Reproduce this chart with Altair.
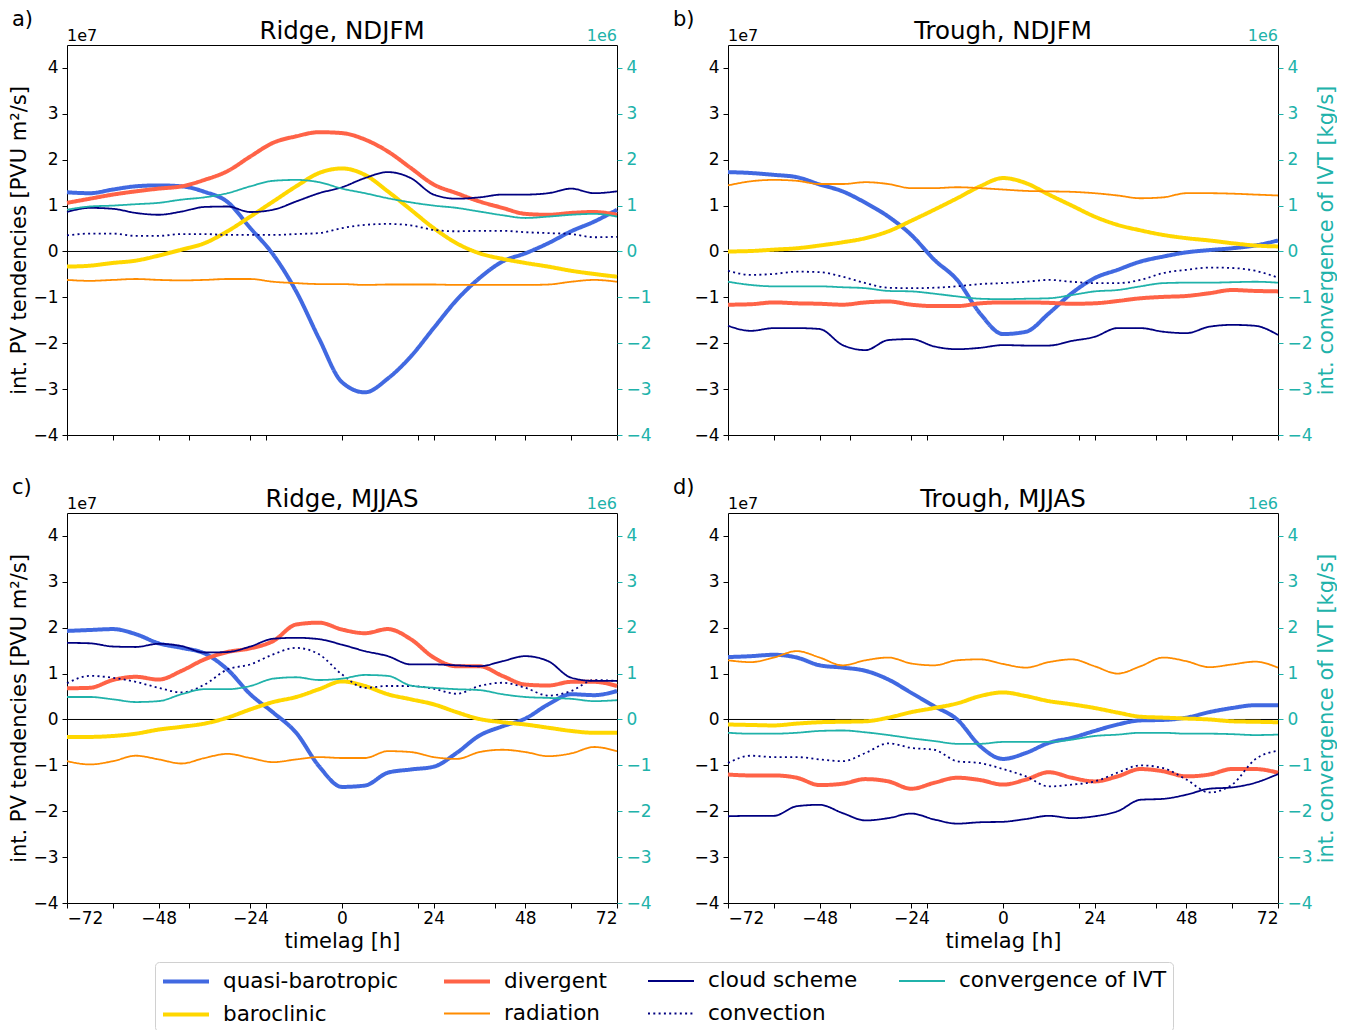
import altair as alt
import pandas as pd

timelag = list(range(-72, 73, 6))
xticks = [-72, -60, -48, -40, -24, -20, 0, 20, 24, 40, 48, 60, 72]

# a) Ridge, NDJFM  (PV terms in 1e7 PVU m2/s, IVT convergence in 1e6 kg/s)
a_qb = [1.29, 1.27, 1.35, 1.42, 1.44, 1.42, 1.30, 1.08, 0.51, -0.07, -0.87, -1.90, -2.85,
        -3.07, -2.77, -2.29, -1.67, -1.06, -0.58, -0.22, -0.04, 0.18, 0.44, 0.65, 0.91]
a_bc = [-0.33, -0.31, -0.25, -0.20, -0.09, 0.04, 0.18, 0.44, 0.76, 1.09, 1.42, 1.71, 1.81,
        1.67, 1.31, 0.91, 0.51, 0.18, -0.04, -0.16, -0.25, -0.33, -0.42, -0.49, -0.55]
a_div = [1.06, 1.15, 1.24, 1.31, 1.37, 1.42, 1.56, 1.75, 2.07, 2.37, 2.51, 2.60, 2.58,
         2.44, 2.18, 1.82, 1.46, 1.27, 1.09, 0.95, 0.82, 0.80, 0.84, 0.86, 0.80]
a_rad = [-0.62, -0.64, -0.62, -0.60, -0.62, -0.63, -0.62, -0.60, -0.60, -0.66, -0.69, -0.71, -0.71,
         -0.73, -0.72, -0.72, -0.72, -0.73, -0.73, -0.73, -0.73, -0.72, -0.66, -0.62, -0.66]
a_cld = [0.86, 0.95, 0.93, 0.84, 0.80, 0.87, 0.97, 0.98, 0.86, 0.91, 1.09, 1.27, 1.40,
         1.60, 1.73, 1.60, 1.24, 1.15, 1.18, 1.24, 1.24, 1.27, 1.37, 1.27, 1.31]
a_conv = [0.35, 0.39, 0.39, 0.34, 0.34, 0.38, 0.38, 0.36, 0.36, 0.36, 0.38, 0.40, 0.51,
          0.58, 0.60, 0.57, 0.47, 0.44, 0.45, 0.45, 0.42, 0.40, 0.38, 0.31, 0.32]
a_ivt = [0.91, 0.98, 1.00, 1.03, 1.06, 1.13, 1.18, 1.27, 1.42, 1.54, 1.56, 1.51, 1.37,
         1.27, 1.16, 1.07, 1.00, 0.95, 0.87, 0.79, 0.73, 0.76, 0.80, 0.82, 0.76]

# b) Trough, NDJFM
b_qb = [1.73, 1.71, 1.67, 1.62, 1.46, 1.31, 1.06, 0.76, 0.36, -0.18, -0.62, -1.35, -1.80,
        -1.75, -1.35, -0.91, -0.58, -0.40, -0.22, -0.11, -0.02, 0.03, 0.07, 0.13, 0.24]
b_bc = [0.00, 0.01, 0.04, 0.07, 0.13, 0.20, 0.29, 0.44, 0.67, 0.91, 1.16, 1.42, 1.60,
        1.49, 1.24, 1.00, 0.76, 0.58, 0.46, 0.36, 0.29, 0.24, 0.18, 0.13, 0.11]
b_div = [-1.16, -1.15, -1.11, -1.13, -1.14, -1.16, -1.11, -1.09, -1.16, -1.19, -1.19, -1.13, -1.11,
         -1.11, -1.12, -1.14, -1.13, -1.08, -1.02, -0.99, -0.97, -0.91, -0.84, -0.86, -0.87]
b_rad = [1.44, 1.53, 1.56, 1.54, 1.47, 1.47, 1.51, 1.47, 1.38, 1.38, 1.40, 1.38, 1.35,
         1.32, 1.31, 1.30, 1.27, 1.22, 1.16, 1.18, 1.27, 1.27, 1.26, 1.24, 1.22]
b_cld = [-1.62, -1.73, -1.67, -1.67, -1.69, -2.04, -2.15, -1.93, -1.91, -2.07, -2.13, -2.10, -2.04,
         -2.05, -2.05, -1.95, -1.86, -1.67, -1.67, -1.75, -1.78, -1.64, -1.60, -1.62, -1.82]
b_conv = [-0.42, -0.51, -0.49, -0.44, -0.45, -0.55, -0.69, -0.79, -0.80, -0.79, -0.76, -0.71, -0.69,
          -0.66, -0.62, -0.66, -0.69, -0.69, -0.62, -0.47, -0.40, -0.35, -0.36, -0.42, -0.57]
b_ivt = [-0.66, -0.73, -0.76, -0.76, -0.76, -0.78, -0.80, -0.86, -0.87, -0.92, -0.98, -1.03, -1.04,
         -1.03, -1.02, -0.95, -0.87, -0.84, -0.76, -0.69, -0.68, -0.68, -0.67, -0.66, -0.68]

# c) Ridge, MJJAS
c_qb = [1.93, 1.95, 1.97, 1.86, 1.66, 1.56, 1.44, 1.09, 0.55, 0.15, -0.29, -1.02, -1.47,
        -1.44, -1.16, -1.09, -1.03, -0.73, -0.35, -0.15, 0.02, 0.33, 0.55, 0.53, 0.62]
c_bc = [-0.38, -0.38, -0.36, -0.31, -0.22, -0.16, -0.09, 0.04, 0.22, 0.38, 0.49, 0.66, 0.83,
        0.73, 0.55, 0.44, 0.33, 0.16, 0.01, -0.06, -0.11, -0.18, -0.25, -0.29, -0.29]
c_div = [0.68, 0.69, 0.86, 0.93, 0.87, 1.06, 1.31, 1.47, 1.55, 1.71, 2.07, 2.11, 1.96,
         1.88, 1.97, 1.75, 1.35, 1.16, 1.16, 0.95, 0.76, 0.74, 0.82, 0.82, 0.73]
c_rad = [-0.91, -0.98, -0.91, -0.79, -0.87, -0.96, -0.84, -0.75, -0.84, -0.93, -0.87, -0.82, -0.84,
         -0.84, -0.69, -0.71, -0.82, -0.86, -0.71, -0.66, -0.71, -0.80, -0.74, -0.60, -0.69]
c_cld = [1.67, 1.66, 1.59, 1.58, 1.65, 1.60, 1.46, 1.47, 1.59, 1.76, 1.78, 1.75, 1.63,
         1.49, 1.38, 1.20, 1.20, 1.18, 1.16, 1.27, 1.38, 1.27, 0.91, 0.84, 0.84]
c_conv = [0.79, 0.95, 0.91, 0.82, 0.69, 0.59, 0.76, 1.09, 1.20, 1.42, 1.56, 1.42, 0.98,
          0.69, 0.73, 0.73, 0.67, 0.56, 0.73, 0.80, 0.69, 0.52, 0.62, 0.86, 0.84]
c_ivt = [0.49, 0.49, 0.44, 0.38, 0.40, 0.55, 0.66, 0.66, 0.73, 0.89, 0.92, 0.86, 0.89,
         0.97, 0.95, 0.74, 0.69, 0.66, 0.64, 0.55, 0.49, 0.47, 0.45, 0.40, 0.42]

# d) Trough, MJJAS
d_qb = [1.36, 1.38, 1.41, 1.35, 1.18, 1.13, 1.06, 0.87, 0.58, 0.29, 0.00, -0.58, -0.86,
        -0.73, -0.51, -0.40, -0.25, -0.11, -0.02, -0.01, 0.04, 0.16, 0.25, 0.31, 0.31]
d_bc = [-0.11, -0.12, -0.13, -0.09, -0.06, -0.05, -0.04, 0.04, 0.16, 0.25, 0.35, 0.51, 0.59,
        0.51, 0.40, 0.33, 0.25, 0.15, 0.06, 0.04, 0.02, 0.00, -0.04, -0.05, -0.06]
d_div = [-1.20, -1.22, -1.22, -1.27, -1.43, -1.40, -1.30, -1.35, -1.51, -1.38, -1.27, -1.32, -1.42,
         -1.31, -1.15, -1.27, -1.35, -1.24, -1.08, -1.13, -1.24, -1.20, -1.08, -1.08, -1.16]
d_rad = [1.29, 1.25, 1.35, 1.49, 1.35, 1.18, 1.29, 1.35, 1.22, 1.18, 1.29, 1.31, 1.21,
         1.13, 1.25, 1.31, 1.16, 1.00, 1.16, 1.35, 1.27, 1.14, 1.20, 1.26, 1.13]
d_cld = [-2.11, -2.10, -2.10, -1.89, -1.86, -2.04, -2.20, -2.15, -2.05, -2.18, -2.27, -2.24, -2.23,
         -2.17, -2.10, -2.15, -2.11, -2.00, -1.75, -1.73, -1.64, -1.51, -1.48, -1.38, -1.19]
d_conv = [-0.95, -0.79, -0.82, -0.82, -0.87, -0.91, -0.73, -0.52, -0.62, -0.66, -0.91, -0.95, -1.08,
          -1.24, -1.46, -1.42, -1.35, -1.16, -1.00, -1.06, -1.31, -1.59, -1.42, -0.87, -0.68]
d_ivt = [-0.29, -0.31, -0.31, -0.29, -0.25, -0.24, -0.28, -0.34, -0.41, -0.47, -0.53, -0.53, -0.49,
         -0.49, -0.49, -0.44, -0.36, -0.33, -0.29, -0.29, -0.31, -0.31, -0.32, -0.34, -0.33]

# legend fills column by column, two rows
terms = ["quasi-barotropic", "baroclinic", "divergent", "radiation",
         "cloud scheme", "convection", "convergence of IVT"]
colors = ["royalblue", "gold", "tomato", "darkorange", "navy", "navy", "lightseagreen"]
widths = [4, 4, 4, 1.8, 1.8, 1.8, 1.8]
dashes = [[1, 0], [1, 0], [1, 0], [1, 0], [1, 0], [2, 3.3], [1, 0]]

TEAL = "lightseagreen"
FONT = "DejaVu Sans"


def long_table(qb, bc, div, rad, cld, conv, ivt):
    df = pd.DataFrame({
        "timelag": timelag,
        "quasi-barotropic": qb, "baroclinic": bc, "divergent": div,
        "radiation": rad, "cloud scheme": cld, "convection": conv,
        "convergence of IVT": ivt,
    })
    return df.melt("timelag", var_name="term", value_name="value")


# a long stroke symbol drawn to the right of its anchor keeps the legend rows short
legend = alt.Legend(
    title=None, orient="none", legendX=88, legendY=917, columns=4,
    symbolType="M-1,0H3", symbolSize=529, labelFontSize=21.5, labelFont=FONT,
    labelLimit=400, labelOffset=35, columnPadding=37, rowPadding=9, padding=6,
    strokeColor="#d0d0d0", cornerRadius=4, fillColor="white",
)
color = alt.Color("term:N", scale=alt.Scale(domain=terms, range=colors), legend=legend)
dash = alt.StrokeDash("term:N", scale=alt.Scale(domain=terms, range=dashes), legend=legend)
width = alt.StrokeWidth("term:N", scale=alt.Scale(type="ordinal", domain=terms, range=widths),
                        legend=legend)

x_scale = alt.Scale(domain=[-72, 72], nice=False, zero=False)
y_scale = alt.Scale(domain=[-4, 4.5], nice=False, zero=False)
yticks = list(range(-4, 5))


def panel(df, title, letter, left_title, right_title, bottom):
    x_axis = alt.Axis(
        values=xticks, labels=bottom, labelOverlap=False, labelPadding=2,
        labelExpr="datum.value % 24 === 0 ? datum.label : ''",
        title="timelag [h]" if bottom else None,
    )
    left_axis = alt.Axis(values=yticks, title=left_title, titlePadding=3)
    right_axis = alt.Axis(
        values=yticks, orient="right", title=right_title,
        labelColor=TEAL, tickColor=TEAL, titleColor=TEAL,
        titleAngle=270, titleBaseline="top", titlePadding=3,
    )
    one = alt.Chart(pd.DataFrame({"n": [0]}))

    pv = alt.Chart(df).transform_filter(
        alt.datum.term != "convergence of IVT"
    ).mark_line(interpolate="monotone").encode(
        x=alt.X("timelag:Q", scale=x_scale, axis=x_axis),
        y=alt.Y("value:Q", scale=y_scale, axis=left_axis),
        color=color, strokeDash=dash, strokeWidth=width,
    )
    zero = one.mark_rule(color="black", strokeWidth=1).encode(y=alt.datum(0))
    tag = one.mark_text(text=letter, align="left", baseline="middle",
                        dx=-55, dy=-25, fontSize=21).encode(
        x=alt.datum(-72), y=alt.datum(4.5))
    head = one.mark_text(text=title, align="center", baseline="alphabetic",
                         dy=-6, fontSize=24.5).encode(
        x=alt.datum(0), y=alt.datum(4.5))
    e7 = one.mark_text(text="1e7", align="left", baseline="middle",
                       dy=-9, fontSize=16).encode(
        x=alt.datum(-72), y=alt.datum(4.5))

    ivt = alt.Chart(df).transform_filter(
        alt.datum.term == "convergence of IVT"
    ).mark_line(interpolate="monotone").encode(
        x=alt.X("timelag:Q", scale=x_scale, axis=x_axis),
        y=alt.Y("value:Q", scale=y_scale, axis=right_axis),
        color=color, strokeDash=dash, strokeWidth=width,
    )
    e6 = one.mark_text(text="1e6", align="right", baseline="middle",
                       dy=-9, fontSize=16, color=TEAL).encode(
        x=alt.datum(72), y=alt.datum(4.5))

    left = alt.layer(zero, pv, tag, head, e7)
    right = alt.layer(ivt, e6)
    return alt.layer(left, right).resolve_scale(y="independent").properties(
        width=550, height=390,
    )


pa = panel(long_table(a_qb, a_bc, a_div, a_rad, a_cld, a_conv, a_ivt),
           "Ridge, NDJFM", "a)", "int. PV tendencies [PVU m²/s]", None, False)
pb = panel(long_table(b_qb, b_bc, b_div, b_rad, b_cld, b_conv, b_ivt),
           "Trough, NDJFM", "b)", None, "int. convergence of IVT [kg/s]", False)
pc = panel(long_table(c_qb, c_bc, c_div, c_rad, c_cld, c_conv, c_ivt),
           "Ridge, MJJAS", "c)", "int. PV tendencies [PVU m²/s]", None, True)
pd_ = panel(long_table(d_qb, d_bc, d_div, d_rad, d_cld, d_conv, d_ivt),
            "Trough, MJJAS", "d)", None, "int. convergence of IVT [kg/s]", True)

chart = alt.concat(
    pa, pb, pc, pd_, columns=2, spacing={"row": 78, "column": 111}, bounds="flush"
).properties(
    padding={"left": 0, "top": 0, "right": 0, "bottom": 0}
).configure(
    font=FONT
).configure_view(
    stroke="black", strokeWidth=1
).configure_axis(
    grid=False, domain=False, labelFontSize=17, labelColor="black",
    tickColor="black", tickSize=5, labelPadding=4, titleFontSize=21,
    titleFontWeight="normal", titleColor="black",
)

chart.save("out.html", embed_options={"renderer": "svg", "actions": False})
